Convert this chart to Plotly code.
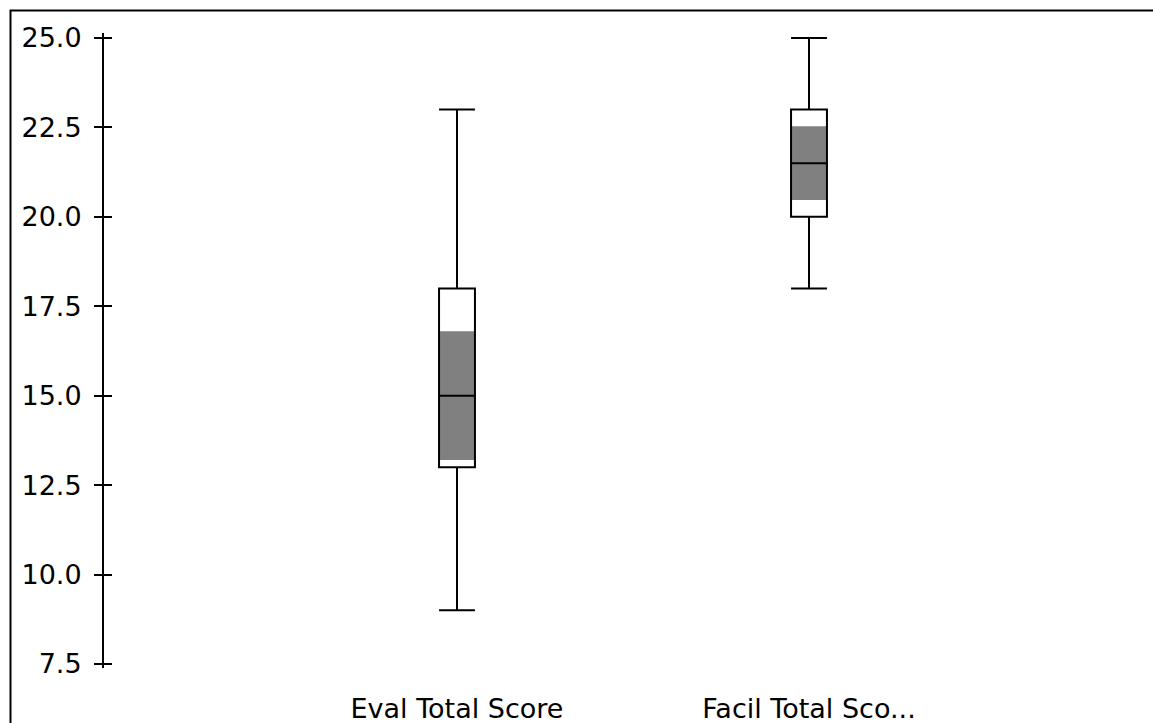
import plotly.graph_objects as go

categories = ["Eval Total Score", "Facil Total Score"]
tick_labels = ["Eval Total Score", "Facil Total Sco..."]
lower_whisker = [9.0, 18.0]
q1_values = [13.0, 20.0]
median_values = [15.0, 21.5]
q3_values = [18.0, 23.0]
upper_whisker = [23.0, 25.0]
ci_low = [13.2, 20.47]
ci_high = [16.8, 22.53]
y_ticks = [7.5, 10.0, 12.5, 15.0, 17.5, 20.0, 22.5, 25.0]

BOX_W = 0.102
fig = go.Figure()

fig.add_trace(go.Bar(
    x=categories,
    y=[h - l for h, l in zip(ci_high, ci_low)],
    base=ci_low,
    width=BOX_W,
    marker=dict(color="#808080", line=dict(width=0)),
    showlegend=False, hoverinfo="skip",
))

for i, c in enumerate(categories):
    fig.add_trace(go.Box(
        x=[c],
        q1=[q1_values[i]], median=[median_values[i]], q3=[q3_values[i]],
        lowerfence=[lower_whisker[i]], upperfence=[upper_whisker[i]],
        width=BOX_W, whiskerwidth=1,
        fillcolor="rgba(0,0,0,0)",
        line=dict(color="black", width=2),
        boxpoints=False, showlegend=False,
    ))

# invisible trace on overlay axis so inside ticks get drawn
fig.add_trace(go.Scatter(x=[categories[0]], y=[None], yaxis="y2", showlegend=False,
                         hoverinfo="skip", mode="markers"))

W, H = 1153, 723
ml, mt, mb, mr = 104, 33, 55, 0
pw, ph = W - ml - mr, H - mt - mb
yr = [7.5 - 4 / 35.77, 25 + 5 / 35.77]

fig.update_layout(
    width=W, height=H,
    margin=dict(l=ml, r=mr, t=mt, b=mb, pad=0),
    paper_bgcolor="white", plot_bgcolor="white",
    font=dict(family="DejaVu Sans", color="black"),
    showlegend=False,
    xaxis=dict(
        type="category", categoryorder="array", categoryarray=categories,
        range=[-(457 - ml) / 352, (W - 457) / 352],
        tickvals=categories, ticktext=tick_labels,
        showline=False, ticks="", showgrid=False, zeroline=False,
        tickfont=dict(family="DejaVu Sans", size=27, color="black"),
        ticklabelstandoff=22,
    ),
    yaxis=dict(
        range=yr, tickvals=y_ticks, tickformat=".1f",
        showline=True, linecolor="black", linewidth=2,
        ticks="outside", ticklen=8, tickwidth=2, tickcolor="black",
        showgrid=False, zeroline=False,
        tickfont=dict(family="DejaVu Sans", size=27, color="black"),
        ticklabelstandoff=7,
    ),
    yaxis2=dict(
        range=yr, tickvals=y_ticks, overlaying="y", side="left", anchor="x",
        showline=False, ticks="inside", ticklen=8, tickwidth=2, tickcolor="black",
        showticklabels=False, showgrid=False, zeroline=False,
    ),
    shapes=[dict(
        type="rect", xref="paper", yref="paper",
        x0=(10.5 - ml) / pw, x1=1.3,
        y0=-0.3, y1=1 + (mt - 10.5) / ph,
        line=dict(color="black", width=2), fillcolor="rgba(0,0,0,0)",
        layer="above",
    )],
)

fig.write_html(
    "out.html",
    config={"displayModeBar": False},
    post_script="document.body.style.margin='0';document.body.style.padding='0';document.body.style.overflow='hidden';",
)
